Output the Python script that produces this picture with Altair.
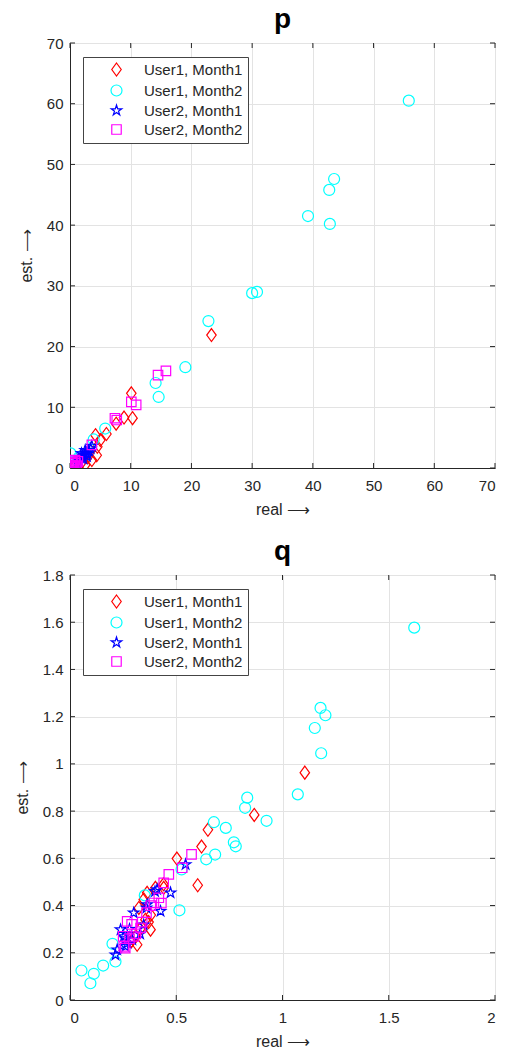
import altair as alt
import pandas as pd

# Series names, colours and marker outlines (SVG paths in the -1..1 box)
SERIES = ["User1, Month1", "User1, Month2", "User2, Month1", "User2, Month2"]
COLORS = ["#ff0000", "#00ffff", "#0000ff", "#ff00ff"]
DIAMOND = "M0,-1.18L0.86,0L0,1.18L-0.86,0Z"
STAR = ("M0,-1L0.223,-0.307L0.951,-0.309L0.361,0.117L0.588,0.809L0,0.38"
        "L-0.588,0.809L-0.361,0.117L-0.951,-0.309L-0.223,-0.307Z")
SQUARE = "M-0.86,-0.86L0.86,-0.86L0.86,0.86L-0.86,0.86Z"
SHAPES = [DIAMOND, "circle", STAR, SQUARE]

# ---- parameter p: real vs. estimated ----
p_real_u1m1 = [23.3, 10.1, 10.3, 8.9, 7.6, 6.0, 5.0, 4.2, 4.5, 4.4, 3.6, 2.5, 1.4, 0.8, 2.9, 1.9]
p_est_u1m1 = [21.9, 12.3, 8.2, 8.3, 7.3, 5.6, 4.6, 5.4, 3.5, 2.1, 1.3, 0.5, 0.0, 0.3, 1.8, 0.9]

p_real_u1m2 = [55.8, 43.5, 42.7, 39.2, 42.8, 30.0, 30.8, 22.8, 19.0, 14.1, 14.6, 5.8, 3.9, 0.1, 0.3, 0.8, 1.5, 0.5]
p_est_u1m2 = [60.5, 47.6, 45.8, 41.5, 40.2, 28.8, 29.0, 24.2, 16.6, 14.0, 11.7, 6.5, 4.7, 2.4, 1.0, 0.5, 1.8, 0.1]

p_real_u2m1 = [1.5, 1.8, 2.1, 2.4, 2.6, 2.9, 3.1, 3.4, 2.2, 1.2, 2.8, 3.6, 1.9, 2.5]
p_est_u2m1 = [1.2, 1.6, 2.0, 2.2, 2.5, 2.3, 2.8, 3.2, 1.5, 0.8, 1.9, 3.6, 2.4, 2.9]

p_real_u2m2 = [15.8, 14.5, 10.1, 10.9, 7.4, 7.7, 3.6, 0.2, 0.4, 0.6, 0.9, 0.3, 1.1, 0.5, 0.1, 0.8, 1.3]
p_est_u2m2 = [16.0, 15.3, 10.9, 10.4, 8.2, 7.9, 3.8, 0.1, 0.5, 0.3, 0.8, 1.0, 0.4, 0.9, 0.4, 1.3, 1.1]

# ---- parameter q: real vs. estimated ----
q_real_u1m1 = [1.105, 0.867, 0.649, 0.619, 0.601, 0.503, 0.441, 0.402, 0.347, 0.324, 0.379,
               0.316, 0.355, 0.363, 0.38, 0.33, 0.29, 0.44, 0.37, 0.31]
q_est_u1m1 = [0.963, 0.784, 0.721, 0.650, 0.486, 0.599, 0.475, 0.475, 0.426, 0.390, 0.298,
              0.234, 0.340, 0.454, 0.36, 0.30, 0.25, 0.49, 0.33, 0.27]

q_real_u1m2 = [1.62, 1.179, 1.202, 1.152, 1.182, 1.072, 0.834, 0.824, 0.925, 0.677, 0.733,
               0.771, 0.780, 0.683, 0.641, 0.515, 0.525, 0.352, 0.200, 0.214, 0.156, 0.112,
               0.096, 0.054]
q_est_u1m2 = [1.577, 1.237, 1.206, 1.152, 1.045, 0.871, 0.857, 0.814, 0.759, 0.753, 0.729,
              0.668, 0.651, 0.616, 0.596, 0.380, 0.553, 0.443, 0.238, 0.163, 0.146, 0.111,
              0.071, 0.125]

q_real_u2m1 = [0.214, 0.222, 0.238, 0.253, 0.26, 0.293, 0.300, 0.347, 0.363, 0.36, 0.426,
               0.473, 0.410, 0.544, 0.28, 0.261, 0.33, 0.40, 0.27]
q_est_u2m1 = [0.191, 0.213, 0.298, 0.269, 0.26, 0.255, 0.369, 0.319, 0.404, 0.39, 0.376,
              0.454, 0.468, 0.574, 0.30, 0.227, 0.28, 0.46, 0.24]

q_real_u2m2 = [0.572, 0.528, 0.465, 0.441, 0.418, 0.395, 0.38, 0.36, 0.332, 0.300, 0.269,
               0.253, 0.28, 0.26, 0.34, 0.31, 0.29, 0.43, 0.25]
q_est_u2m2 = [0.617, 0.56, 0.532, 0.496, 0.433, 0.411, 0.40, 0.37, 0.305, 0.269, 0.333,
              0.227, 0.26, 0.22, 0.33, 0.28, 0.32, 0.41, 0.27]

# Tick values
P_X_TICKS = [0, 10, 20, 30, 40, 50, 60, 70]
P_Y_TICKS = [0, 10, 20, 30, 40, 50, 60, 70]
Q_X_TICKS = [0, 0.5, 1, 1.5, 2]
Q_Y_TICKS = [0, 0.2, 0.4, 0.6, 0.8, 1, 1.2, 1.4, 1.6, 1.8]

W = 425
H = 425
FONT = "Liberation Sans"
INK = "#262626"


def frame(series_lists):
    rows = []
    for name, (xs, ys) in zip(SERIES, series_lists):
        for x, y in zip(xs, ys):
            rows.append({"real": x, "est": y, "series": name})
    return pd.DataFrame(rows)


def panel(df, title, xticks, yticks):
    xscale = alt.Scale(domain=[xticks[0], xticks[-1]], nice=False, zero=False)
    yscale = alt.Scale(domain=[yticks[0], yticks[-1]], nice=False, zero=False)
    xaxis = alt.Axis(values=xticks, title="real ⟶", grid=True, ticks=False,
                     labelPadding=10, titlePadding=8, format="~r")
    yaxis = alt.Axis(values=yticks, title="est. ⟶", grid=True, ticks=False,
                     labelPadding=7, titlePadding=12, format="~r")

    pts = alt.Chart(df).mark_point(
        filled=False, strokeWidth=1.2, size=121, opacity=1, clip=True
    ).encode(
        x=alt.X("real:Q", scale=xscale, axis=xaxis),
        y=alt.Y("est:Q", scale=yscale, axis=yaxis),
        color=alt.Color("series:N", scale=alt.Scale(domain=SERIES, range=COLORS),
                        legend=alt.Legend(title=None)),
        shape=alt.Shape("series:N", scale=alt.Scale(domain=SERIES, range=SHAPES),
                        legend=alt.Legend(title=None)),
    )

    # inward tick marks on all four sides of the box
    xt = alt.Chart(pd.DataFrame({"real": xticks}))
    yt = alt.Chart(pd.DataFrame({"est": yticks}))
    rule = dict(color=INK, strokeWidth=1)
    xenc = alt.X("real:Q", scale=xscale, axis=xaxis)
    yenc = alt.Y("est:Q", scale=yscale, axis=yaxis)
    xb = xt.mark_rule(**rule).encode(x=xenc, y=alt.value(H), y2=alt.value(H - 5))
    xtop = xt.mark_rule(**rule).encode(x=xenc, y=alt.value(0), y2=alt.value(5))
    yl = yt.mark_rule(**rule).encode(y=yenc, x=alt.value(0), x2=alt.value(5))
    yr = yt.mark_rule(**rule).encode(y=yenc, x=alt.value(W), x2=alt.value(W - 5))

    return alt.layer(xb, xtop, yl, yr, pts).properties(
        width=W, height=H,
        title=alt.TitleParams(title, fontSize=28, fontWeight="bold", font=FONT,
                              color="black", offset=2),
    )


p_df = frame([(p_real_u1m1, p_est_u1m1), (p_real_u1m2, p_est_u1m2),
              (p_real_u2m1, p_est_u2m1), (p_real_u2m2, p_est_u2m2)])
q_df = frame([(q_real_u1m1, q_est_u1m1), (q_real_u1m2, q_est_u1m2),
              (q_real_u2m1, q_est_u2m1), (q_real_u2m2, q_est_u2m2)])

chart = alt.vconcat(
    panel(p_df, "p", P_X_TICKS, P_Y_TICKS),
    panel(q_df, "q", Q_X_TICKS, Q_Y_TICKS),
    spacing=19,
).resolve_scale(color="independent", shape="independent").properties(
    padding={"left": 13, "top": 5, "right": 4, "bottom": 4},
    background="white",
).configure_view(
    stroke=INK, strokeWidth=1
).configure_axis(
    domainColor=INK, gridColor="#e3e3e3", gridWidth=1,
    labelFont=FONT, labelFontSize=15, labelColor=INK,
    titleFont=FONT, titleFontSize=16, titleColor=INK, titleFontWeight="normal",
).configure_legend(
    orient="none", legendX=13, legendY=14,
    strokeColor="#444444", strokeWidth=1, fillColor="white",
    padding=5, symbolOffset=21, labelOffset=20, rowPadding=3,
    symbolSize=121, symbolStrokeWidth=1.2, symbolType="circle",
    labelFont=FONT, labelFontSize=15, labelColor=INK, labelLimit=300,
)

chart.save("out.html", embed_options={"renderer": "svg", "actions": False})
